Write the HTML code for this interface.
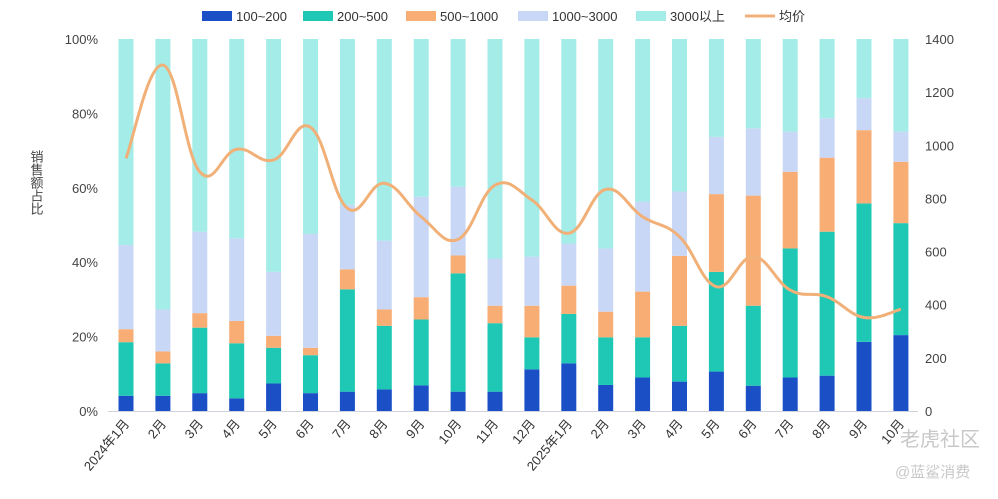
<!DOCTYPE html>
<html><head><meta charset="utf-8">
<style>
html,body{margin:0;padding:0;background:#fff;}
body{width:998px;height:494px;overflow:hidden;font-family:"Liberation Sans","Noto Sans CJK SC",sans-serif;}
svg text{font-family:"Liberation Sans","Noto Sans CJK SC",sans-serif;}
</style></head>
<body>
<svg id="chart" width="998" height="494" viewBox="0 0 998 494" xmlns="http://www.w3.org/2000/svg">
  <g id="legend"></g>
  <g id="grid"></g>
  <g id="bars"></g>
  <g id="line"></g>
  <g id="xlabels"></g>
  <text x="900" y="446" font-size="20" fill="#c8c8c8">老虎社区</text>
  <text x="895" y="477" font-size="15" fill="#c8c8c8">@蓝鲨消费</text>
</svg>
<script>
const categories = ["2024年1月","2月","3月","4月","5月","6月","7月","8月","9月","10月","11月","12月","2025年1月","2月","3月","4月","5月","6月","7月","8月","9月","10月"];
const s100_200 = [4.1,4.1,4.8,3.4,7.4,4.8,5.2,5.8,6.9,5.2,5.2,11.2,12.8,7.0,9.0,7.9,10.6,6.8,9.0,9.5,18.6,20.4];
const s200_500 = [14.4,8.7,17.6,14.8,9.6,10.2,27.5,17.1,17.7,31.8,18.4,8.6,13.3,12.8,10.8,15.0,26.8,21.5,34.7,38.7,37.2,30.1];
const s500_1000 = [3.5,3.2,3.9,6.0,3.2,2.0,5.4,4.4,6.0,4.8,4.7,8.5,7.6,6.9,12.3,18.8,20.9,29.6,20.6,19.9,19.7,16.5];
const s1000_3000 = [22.6,11.3,21.9,22.2,17.2,30.6,17.3,18.5,27.0,18.5,12.7,13.2,11.3,17.0,24.2,17.3,15.4,18.1,10.8,10.6,8.6,8.1];
const s3000up = [55.4,72.7,51.8,53.6,62.6,52.4,44.6,54.2,42.4,39.7,59.0,58.5,55.0,56.3,43.7,41.0,26.3,24.0,24.9,21.3,15.9,24.9];
const avgPrice = [951,1302,900,985,945,1068,763,857,731,646,850,794,669,834,731,656,468,581,455,430,352,383];
const leftTicks = ["0%","20%","40%","60%","80%","100%"];
const rightTicks = ["0","200","400","600","800","1000","1200","1400"];

const NS="http://www.w3.org/2000/svg";
function mk(tag,attrs,parent){const e=document.createElementNS(NS,tag);for(const k in attrs)e.setAttribute(k,attrs[k]);parent.appendChild(e);return e;}
const plotTop=39,plotBottom=411,x0=126,step=36.9,barW=15;
const yPct=v=>plotBottom-(v/100)*(plotBottom-plotTop);
const yPrice=v=>plotBottom-(v/1400)*(plotBottom-plotTop);
const xPos=i=>x0+i*step;

const grid=document.getElementById('grid');
const base=mk('line',{x1:108,x2:918,y1:plotBottom+0.5,y2:plotBottom+0.5,stroke:'#d0d4da','stroke-width':1},grid);


leftTicks.forEach((t,i)=>{const el=mk('text',{x:98,y:yPct(i*20)+5,'font-size':13,fill:'#444','text-anchor':'end'},grid);el.textContent=t;

});
rightTicks.forEach((t,i)=>{const el=mk('text',{x:925,y:yPrice(i*200)+5,'font-size':13,fill:'#444'},grid);el.textContent=t;

});
const yt=mk('text',{x:36,y:150,'font-size':13,fill:'#444','writing-mode':'tb','glyph-orientation-vertical':0},grid);yt.textContent="销售额占比";



const series=[s100_200,s200_500,s500_1000,s1000_3000,s3000up];
const colors=['#1a4fc6','#1fc8b4','#f8ad74','#c9d7f6','#a3ece7'];
const names=['100~200','200~500','500~1000','1000~3000','3000以上'];
const bars=document.getElementById('bars');
categories.forEach((c,i)=>{let cum=0;series.forEach((s,k)=>{const y1=yPct(cum),y2=yPct(cum+s[i]);cum+=s[i];
const r=mk('rect',{x:xPos(i)-barW/2,y:y2,width:barW,height:Math.max(0,y1-y2),fill:colors[k]},bars);

});});

const pts=avgPrice.map((v,i)=>[xPos(i),yPrice(v)]);
let d=`M${pts[0][0]},${pts[0][1]}`;
for(let i=0;i<pts.length-1;i++){const p0=pts[Math.max(0,i-1)],p1=pts[i],p2=pts[i+1],p3=pts[Math.min(pts.length-1,i+2)];const t=0.2;
d+=` C${p1[0]+(p2[0]-p0[0])*t},${p1[1]+(p2[1]-p0[1])*t} ${p2[0]-(p3[0]-p1[0])*t},${p2[1]-(p3[1]-p1[1])*t} ${p2[0]},${p2[1]}`;}
const ln=mk('path',{d:d,fill:'none',stroke:'#f0b078','stroke-width':3},document.getElementById('line'));



const xl=document.getElementById('xlabels');
categories.forEach((c,i)=>{const x=xPos(i)+4,y=424;const t=mk('text',{x:x,y:y,'font-size':13,fill:'#333','text-anchor':'end',transform:`rotate(-50 ${x} ${y})`},xl);t.textContent=c;

});

const lg=document.getElementById('legend');
const lx=[202,303,406,518,636];
names.forEach((n,k)=>{const r=mk('rect',{x:lx[k],y:11,width:30,height:10,fill:colors[k]},lg);


const t=mk('text',{x:lx[k]+34,y:21,'font-size':13,fill:'#333'},lg);t.textContent=n;

});
const ll=mk('line',{x1:745,x2:775,y1:16,y2:16,stroke:'#f0b078','stroke-width':3},lg);


const lt=mk('text',{x:779,y:21,'font-size':13,fill:'#333'},lg);lt.textContent='均价';


</script>
</body></html>
